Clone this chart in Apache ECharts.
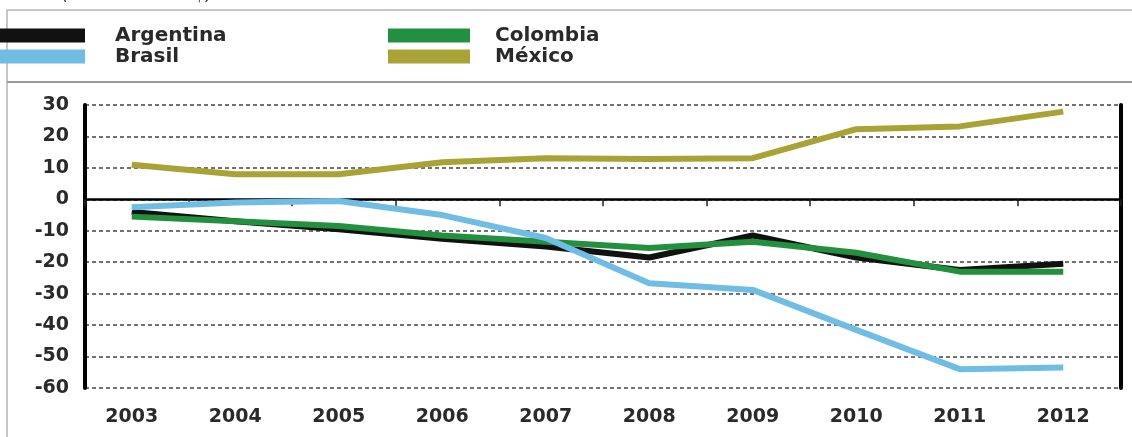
<!DOCTYPE html>
<html>
<head>
<meta charset="utf-8">
<script src="https://cdn.jsdelivr.net/npm/echarts@6/dist/echarts.min.js"></script>
<style>
  html, body { margin: 0; padding: 0; background: #fff; }
  #container { width: 1132px; height: 437px; }
</style>
</head>
<body>
<div id="container"></div>
<script>
// datos
var years = ['2003', '2004', '2005', '2006', '2007', '2008', '2009', '2010', '2011', '2012']
var argentina = [-4, -7, -9.5, -12.5, -15, -18.5, -11.5, -18.5, -22.5, -20.5]
var brasil = [-2.5, -1, -0.5, -5, -12.3, -26.7, -28.8, -41.5, -54, -53.5]
var colombia = [-5.5, -7, -8.5, -11.5, -13.5, -15.5, -13.5, -17, -23, -23]
var mexico = [11, 8, 8, 11.8, 13.1, 12.8, 13.1, 22.3, 23.2, 27.9]

var colors = {
    Argentina: '#111111',
    Brasil: '#6fbde4',
    Colombia: '#23903f',
    'México': '#a9a234'
}

var labelFont = {
    fontFamily: 'DejaVu Sans',
    fontWeight: 'bold',
    fontSize: 19,
    color: '#2a2a2a'
}

function lineSeries (name, data) {
    return {
        name: name,
        type: 'line',
        xAxisIndex: 1,
        yAxisIndex: 2,
        data: data,
        symbol: 'none',
        color: colors[name],
        lineStyle: { width: 6, color: colors[name], cap: 'butt', join: 'round' },
        itemStyle: { color: colors[name] },
        emphasis: { disabled: true }
    }
}

function legendBox (left, iconWidth, textGap, names) {
    return {
        orient: 'vertical',
        left: left,
        top: 25,
        icon: 'rect',
        itemWidth: iconWidth,
        itemHeight: 14,
        itemGap: 0,
        padding: 0,
        selectedMode: false,
        data: names,
        textStyle: {
            fontFamily: 'DejaVu Sans',
            fontWeight: 'bold',
            fontSize: 20,
            lineHeight: 21,
            color: '#2a2a2a',
            padding: [0, 0, 0, textGap]
        }
    }
}

var option = {
    animation: false,
    title: {
        text: '(millones de US$)',
        left: 62,
        top: -13,
        padding: 0,
        textStyle: { fontFamily: 'DejaVu Sans', fontStyle: 'italic', fontWeight: 'normal', fontSize: 17, color: '#333' }
    },
    legend: [
        legendBox(0, 85, 25, ['Argentina', 'Brasil']),
        legendBox(388, 82, 20, ['Colombia', 'México'])
    ],
    graphic: [
        {
            type: 'rect',
            shape: { x: 7, y: 10, width: 1140, height: 450 },
            style: { fill: 'none', stroke: '#b4b4b4', lineWidth: 1.5 },
            silent: true
        },
        {
            type: 'line',
            shape: { x1: 7, y1: 82, x2: 1132, y2: 82 },
            style: { stroke: '#9a9a9a', lineWidth: 2 },
            silent: true
        }
    ],
    grid: [
        // marco: ejes verticales, lineas de division y linea del cero
        { left: 85, right: 11, top: 105, bottom: 49 },
        // datos
        { left: 80, right: 17, top: 105, bottom: 49 }
    ],
    xAxis: [
        {
            type: 'category',
            gridIndex: 0,
            data: years,
            boundaryGap: true,
            axisLine: { onZero: true, lineStyle: { color: '#000', width: 2.5 } },
            axisTick: { show: true, length: 7, lineStyle: { color: '#222', width: 1.5 } },
            axisLabel: { show: false },
            splitLine: { show: false }
        },
        {
            type: 'category',
            gridIndex: 1,
            data: years,
            boundaryGap: true,
            axisLine: { show: false, onZero: false },
            axisTick: { show: false },
            axisLabel: Object.assign({ margin: 20 }, labelFont),
            splitLine: { show: false }
        }
    ],
    yAxis: [
        {
            type: 'value',
            gridIndex: 0,
            min: -60,
            max: 30,
            interval: 10,
            axisLine: { show: true, lineStyle: { color: '#000', width: 4 } },
            axisTick: { show: false },
            axisLabel: Object.assign({ margin: 16 }, labelFont),
            splitLine: { show: true, lineStyle: { color: '#444', width: 1.5, type: [4, 3] } }
        },
        {
            type: 'value',
            gridIndex: 0,
            position: 'right',
            min: -60,
            max: 30,
            interval: 10,
            axisLine: { show: true, lineStyle: { color: '#000', width: 4 } },
            axisTick: { show: false },
            axisLabel: { show: false },
            splitLine: { show: false }
        },
        {
            type: 'value',
            gridIndex: 1,
            min: -60,
            max: 30,
            interval: 10,
            show: false
        }
    ],
    series: [
        lineSeries('Argentina', argentina),
        lineSeries('Colombia', colombia),
        lineSeries('Brasil', brasil),
        lineSeries('México', mexico)
    ]
}

var myChart = echarts.init(document.getElementById('container'))
myChart.setOption(option)
</script>
</body>
</html>
